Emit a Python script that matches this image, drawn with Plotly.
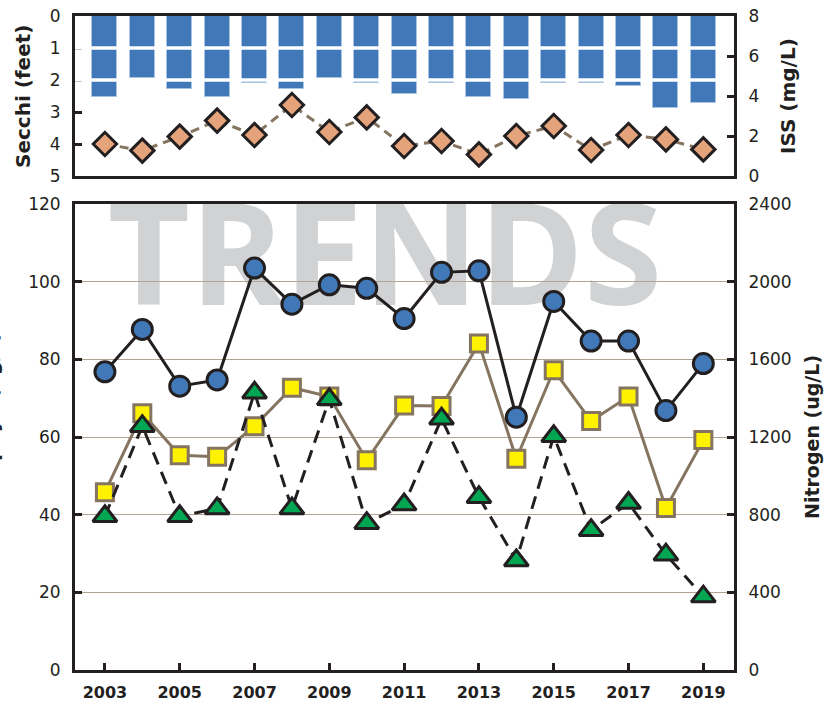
import plotly.graph_objects as go

# ---------------- data ----------------
years = list(range(2003, 2020))
year_ticks = list(range(2003, 2020, 2))

secchi_ft = [2.52, 1.93, 2.27, 2.52, 2.10, 2.27, 1.95, 2.10, 2.44,
             2.10, 2.52, 2.60, 2.10, 2.10, 2.20, 2.87, 2.73]
iss_mgl = [1.60, 1.27, 1.97, 2.77, 2.05, 3.55, 2.20, 2.93, 1.50,
           1.75, 1.08, 2.00, 2.50, 1.30, 2.05, 1.83, 1.33]
nitrogen_ugl = [1536, 1754, 1462, 1494, 2070, 1884, 1984, 1966, 1810,
                2048, 2056, 1302, 1898, 1694, 1694, 1336, 1578]
chlorophyll_ugl = [45.8, 66.1, 55.3, 54.9, 62.8, 72.7, 70.4, 54.0, 68.1,
                   68.0, 84.1, 54.4, 77.2, 64.1, 70.4, 41.7, 59.2]
phosphorus_ugl = [39.6, 62.8, 39.6, 41.6, 71.4, 41.6, 69.7, 37.8, 42.6,
                  64.7, 44.5, 28.2, 60.2, 36.0, 43.0, 29.7, 18.9]

secchi_ticks = [0, 1, 2, 3, 4, 5]
secchi_breaks = [1, 2]
iss_ticks = [0, 2, 4, 6, 8]
chl_ticks = [0, 20, 40, 60, 80, 100, 120]
nit_ticks = [0, 400, 800, 1200, 1600, 2000, 2400]

# ---------------- style ----------------
INK = "#231f20"
BLUE = "#4179b8"
TAN = "#857560"
GRID = "#b0a592"
FONT = "DejaVu Sans, Liberation Sans, Arial, sans-serif"

W, H = 840, 704
ML, MR, MT, MB = 75, 106, 16, 34
PW, PH = W - ML - MR, H - MT - MB


def py(px):  # pixel y -> paper y
    return (H - MB - px) / PH


def px_x(px):  # pixel x -> paper x
    return (px - ML) / PW


top_dom = [py(176), 1.0]
bot_dom = [0.0, py(204)]
xr = [2002.2, 2019.82]

fig = go.Figure()

# watermark (own subplot, drawn beneath gridlines)
fig.add_trace(go.Scatter(
    x=[px_x(385)], y=[(670 - 269) / 466], mode="text", text=["TRENDS"],
    textfont=dict(family="Open Sans, Lato, DejaVu Sans, sans-serif", size=142,
                  color="#d1d2d4", weight="bold"),
    textposition="middle center", hoverinfo="skip", showlegend=False,
    xaxis="x", yaxis="y"))

# bottom panel
fig.add_trace(go.Scatter(
    x=years, y=chlorophyll_ugl, mode="lines+markers",
    line=dict(color=TAN, width=3),
    marker=dict(symbol="square", size=17, color="#fff200", line=dict(color=TAN, width=3)),
    xaxis="x2", yaxis="y2", showlegend=False, name="Chlorophyll"))
fig.add_trace(go.Scatter(
    x=years, y=phosphorus_ugl, mode="lines+markers",
    line=dict(color=INK, width=3, dash="13px,8px"),
    marker=dict(symbol="triangle-up", size=21, color="#00a651", line=dict(color=INK, width=3)),
    xaxis="x2", yaxis="y2", showlegend=False, name="Phosphorus"))
fig.add_trace(go.Scatter(
    x=years, y=nitrogen_ugl, mode="lines+markers",
    line=dict(color=INK, width=3),
    marker=dict(symbol="circle", size=20, color=BLUE, line=dict(color=INK, width=3)),
    xaxis="x2", yaxis="y4", showlegend=False, name="Nitrogen"))

# top panel
fig.add_trace(go.Bar(
    x=years, y=secchi_ft, width=0.67, marker=dict(color=BLUE, line=dict(color="#a8c3e3", width=1)),
    xaxis="x3", yaxis="y3", showlegend=False, name="Secchi"))
fig.add_trace(go.Scatter(
    x=years, y=iss_mgl, mode="lines+markers",
    line=dict(color=TAN, width=3, dash="9px,6px"),
    marker=dict(symbol="diamond", size=18, color="#e5a37c", line=dict(color=INK, width=3)),
    xaxis="x3", yaxis="y5", showlegend=False, name="ISS"))

tickfont = dict(family=FONT, size=17, color=INK)
common = dict(showline=True, linewidth=3, linecolor=INK, ticks="inside", ticklen=7,
              tickwidth=3, tickcolor=INK, zeroline=False, tickfont=tickfont, automargin=False)

for b in secchi_breaks:
    fig.add_shape(type="line", xref="x3 domain", yref="y3", x0=0, x1=1, y0=b, y1=b,
                  line=dict(color="white", width=3.5), layer="above")

fig.update_layout(
    width=W, height=H, margin=dict(l=ML, r=MR, t=MT, b=MB, autoexpand=False),
    paper_bgcolor="white", plot_bgcolor="rgba(0,0,0,0)", bargap=0,
    xaxis=dict(domain=[0, 1], range=[0, 1], visible=False, anchor="y"),
    yaxis=dict(domain=bot_dom, range=[0, 1], visible=False, anchor="x"),
    xaxis2=dict(domain=[0, 1], range=xr, anchor="y2", tickvals=year_ticks, mirror=True,
                showgrid=False, ticklabelstandoff=6,
                **{k: v for k, v in common.items() if k != "tickfont"},
                tickfont=dict(family=FONT, size=16, color=INK, weight="bold")),
    yaxis2=dict(domain=bot_dom, range=[0, 120], anchor="x2", tickvals=chl_ticks, mirror=True,
                showgrid=True, gridcolor=GRID, gridwidth=1, ticklabelstandoff=8, **common),
    yaxis4=dict(range=[0, 2400], overlaying="y2", side="right", anchor="x2", tickvals=nit_ticks,
                showgrid=False, ticklabelstandoff=8, **common),
    xaxis3=dict(domain=[0, 1], range=xr, anchor="y3", mirror=True, showgrid=False,
                showticklabels=False, showline=True, linewidth=3, linecolor=INK, ticks="",
                automargin=False),
    yaxis3=dict(domain=top_dom, range=[5, 0], anchor="x3", tickvals=secchi_ticks, mirror=True,
                showgrid=False, ticklabelstandoff=8, **common),
    yaxis5=dict(range=[0, 8], overlaying="y3", side="right", anchor="x3", tickvals=iss_ticks,
                showgrid=False, ticklabelstandoff=8, **common),
)

title_font = dict(family=FONT, size=20, color=INK, weight="bold")
titles = [
    ("Secchi (feet)", 23, 97, title_font),
    ("ISS (mg/L)", 788, 96, title_font),
    ("Nitrogen (ug/L)", 812, 437, dict(title_font, size=19)),
    ("Chlorophyll (ug/L)", -9, 433, title_font),
]
for text, xpx, ypx, f in titles:
    fig.add_annotation(text=text, xref="paper", yref="paper", x=px_x(xpx), y=py(ypx),
                       xanchor="center", yanchor="middle", textangle=-90, showarrow=False, font=f)

fig.write_html("out.html", config={"displayModeBar": False},
               post_script="document.body.style.margin='0';")
